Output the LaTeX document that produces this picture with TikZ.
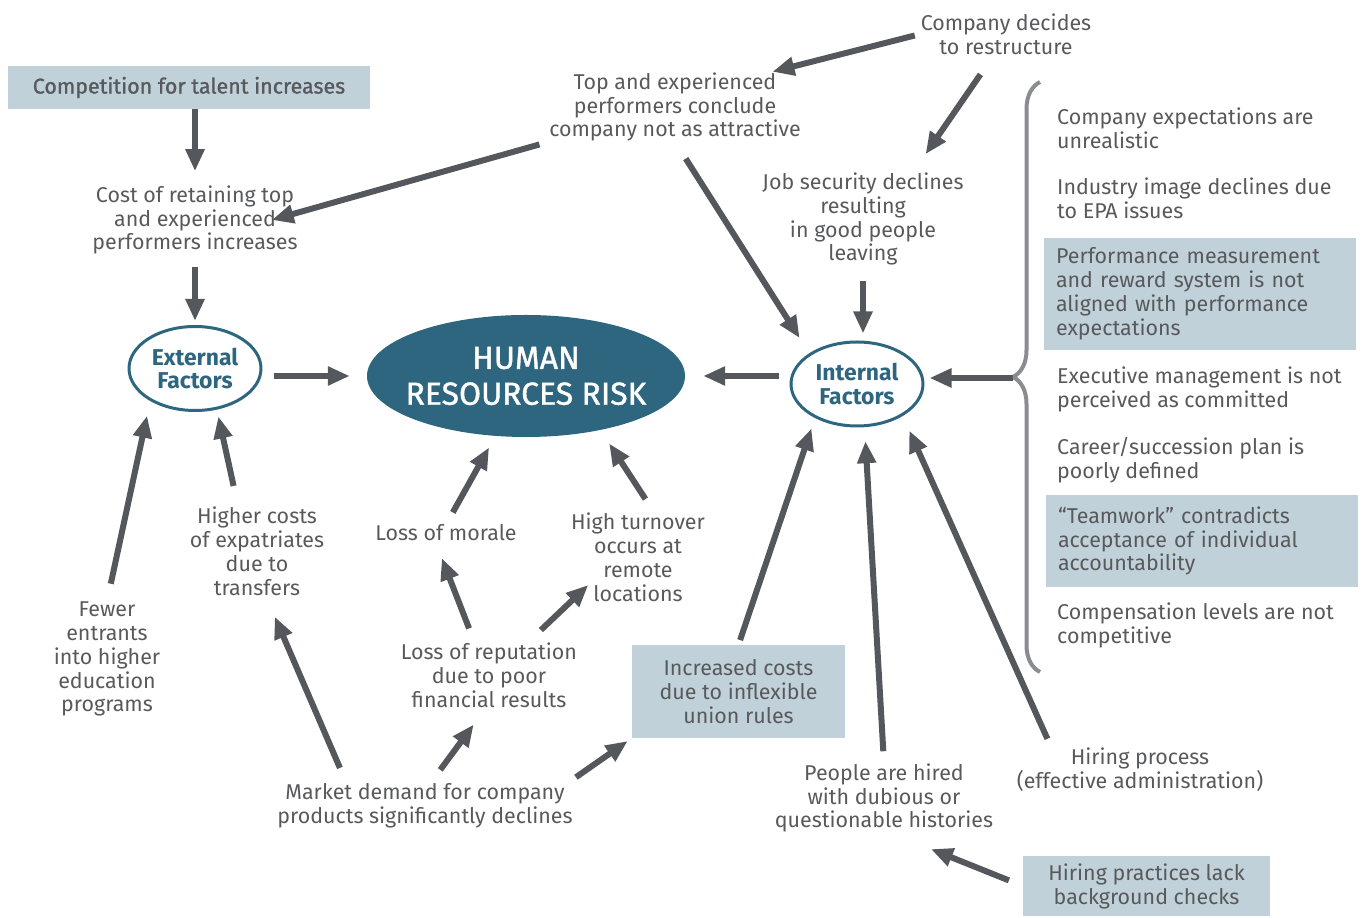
\documentclass[tikz,border=0pt]{standalone}
\usepackage{fontspec}
\setmainfont{Fira Sans}
\newfontfamily\medfont[FakeBold=1.2]{Fira Sans}
\usetikzlibrary{arrows.meta,shapes.geometric,decorations.pathreplacing}
\definecolor{txtgray}{RGB}{88,89,91}
\definecolor{arrgray}{RGB}{84,87,92}
\definecolor{bracegray}{RGB}{138,140,143}
\definecolor{boxblue}{RGB}{192,209,218}
\definecolor{hrteal}{RGB}{46,102,128}
\begin{document}
\begin{tikzpicture}[>={Triangle[length=22bp,width=18bp]},line join=bevel,
  every node/.style={font=\fontsize{21.5}{24}\selectfont,text=txtgray},
  txt/.style={align=center,inner sep=0pt},
  greybox/.style={fill=boxblue,align=center,inner sep=0pt},
  factor/.style={ellipse,draw=hrteal,line width=3bp,fill=white,text=hrteal,align=center,inner sep=0pt,
    font=\bfseries\fontsize{23}{24}\selectfont,minimum width=132bp,minimum height=84bp},
  arr/.style={draw=arrgray,line width=6bp,->},
]
\useasboundingbox (0bp,0bp) rectangle (1362bp,918bp);
%% centre
\node (node_hr) at (526bp,542bp) [ellipse,fill=hrteal,text=white,align=center,inner xsep=-15bp,inner ysep=0pt,
  minimum width=318bp,minimum height=122bp,font=\medfont\fontsize{32}{36}\selectfont] {HUMAN\\RESOURCES RISK};
\node (node_ext) at (195bp,549.5bp) [factor] {External\\Factors};
\node (node_int) at (857bp,534bp) [factor] {Internal\\Factors};
%% left and top
\node (node_comp) at (189bp,830.5bp) [greybox,minimum width=362bp,minimum height=43bp,font=\medfont\fontsize{21.5}{24}\selectfont] {Competition for talent increases};
\node (node_cost) at (195bp,698bp) [txt] {Cost of retaining top\\and experienced\\performers increases};
\node (node_top) at (675bp,811bp) [txt] {Top and experienced\\performers conclude\\company not as attractive};
\node (node_dec) at (1006bp,884bp) [txt] {Company decides\\to restructure};
\node (node_job) at (863bp,699bp) [txt] {Job security declines\\resulting\\in good people\\leaving};
%% bottom
\node (node_higher) at (257bp,367bp) [txt] {Higher costs\\of expatriates\\due to\\transfers};
\node (node_fewer) at (107bp,259bp) [txt] {Fewer\\entrants\\into higher\\education\\programs};
\node (node_morale) at (446bp,385bp) [txt] {Loss of morale};
\node (node_turn) at (638bp,361bp) [txt] {High turnover\\occurs at\\remote\\locations};
\node (node_rep) at (489bp,243bp) [txt] {Loss of reputation\\due to poor\\financial results};
\node (node_market) at (425bp,112bp) [txt] {Market demand for company\\products significantly declines};
\node (node_union) at (738.5bp,226.5bp) [greybox,minimum width=213bp,minimum height=93bp] {Increased costs\\due to inflexible\\union rules};
\node (node_hired) at (884bp,120bp) [txt] {People are hired\\with dubious or\\questionable histories};
\node (node_proc) at (1140bp,148bp) [txt] {Hiring process\\(effective administration)};
\node (node_bg) at (1146.5bp,32bp) [greybox,minimum width=247bp,minimum height=60bp] {Hiring practices lack\\background checks};
%% internal list
\node (node_r1) at (1057bp,790bp) [txt,anchor=west,align=left] {Company expectations are\\unrealistic};
\node (node_r2) at (1057bp,720bp) [txt,anchor=west,align=left] {Industry image declines due\\to EPA issues};
\node (node_r3) at (1200bp,624bp) [greybox,align=left,text width=288bp,inner xsep=12bp,minimum height=112bp] {Performance measurement\\and reward system is not\\aligned with performance\\expectations};
\node (node_r4) at (1057bp,529bp) [txt,anchor=west,align=left] {Executive management is not\\perceived as committed};
\node (node_r5) at (1057bp,458bp) [txt,anchor=west,align=left] {Career/succession plan is\\poorly defined};
\node (node_r6) at (1202bp,377bp) [greybox,align=left,text width=288bp,inner xsep=12bp,minimum height=92bp] {“Teamwork” contradicts\\acceptance of individual\\accountability};
\node (node_r7) at (1057bp,293bp) [txt,anchor=west,align=left] {Compensation levels are not\\competitive};
\draw [bracegray,line width=4bp,decorate,decoration={brace,amplitude=27bp}] (1040bp,246bp) -- (1040bp,836bp);
\coordinate (brace_tip) at (1013bp,540bp);
%% arrows
\draw [arr] (node_cost.north |- node_comp.south) -- (node_cost.north) [shorten >=14bp];
\draw [arr,shorten <=12bp,shorten >=4bp] (node_cost.south) -- (node_ext.north);
\draw [arr,shorten <=11bp,shorten >=17bp] (node_ext.east |- node_hr.west) -- (node_hr.west);
\draw [arr,shorten <=11bp,shorten >=18bp] (node_int.west |- node_hr.east) -- (node_hr.east);
\draw [arr,shorten <=6bp,shorten >=2bp] (node_dec.west) -- (node_top.20);
\draw [arr,shorten <=24bp,shorten >=22bp] (node_dec.240) -- (node_job.43);
\draw [arr,shorten <=10bp] (node_top.south west) -- ([xshift=-26bp]node_cost.east);
\draw [arr,shorten <=20bp,shorten >=18bp] (node_top.south) -- (node_int.north west);
\draw [arr,shorten <=15bp,shorten >=7bp] (node_job.south) -- (node_job.south |- node_int.north);
\draw [arr,shorten >=5bp] (brace_tip) -- (brace_tip -| node_int.east);
\draw [arr,shorten <=21bp,shorten >=7bp] (node_higher.113) -- (node_ext.-62);
\draw [arr,shorten <=18bp,shorten >=15bp] (node_fewer.north) -- (node_ext.216);
\draw [arr,shorten <=14bp,shorten >=13bp] (node_morale.north) -- (node_hr.-117);
\draw [arr,shorten <=16bp,shorten >=16bp] (node_turn.70) -- (node_hr.-36);
\draw [arr,shorten <=15bp,shorten >=18bp] (node_rep.114) -- (node_morale.-142);
\draw [arr,shorten <=18bp,shorten >=-24bp] (node_rep.40) -- (node_turn.south west);
\draw [arr,shorten <=17bp,shorten >=23bp] (node_market.164) -- (node_higher.-79);
\draw [arr,shorten <=17bp,shorten >=21bp] (node_market.77) -- (node_rep.-95);
\draw [arr,shorten <=11bp,shorten >=5bp] (node_market.9) -- (node_union.south west);
\draw [arr,shorten <=5bp,shorten >=11bp] (node_union.north) -- (node_int.-141);
\draw [arr,shorten <=12bp,shorten >=14bp] (node_hired.north) -- (node_int.-80);
\draw [arr,shorten <=10bp,shorten >=16bp] (node_proc.166) -- (node_int.-35);
\draw [arr,shorten <=15bp,shorten >=44bp] (node_bg.west) -- (node_hired.-80);
%
\end{tikzpicture}
\end{document}
